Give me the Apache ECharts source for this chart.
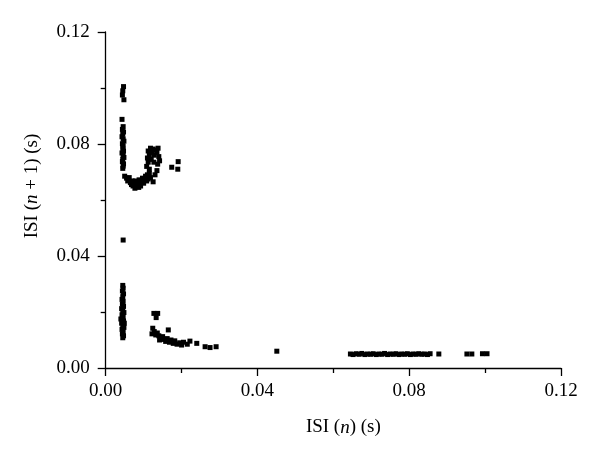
<!DOCTYPE html>
<html>
<head>
<meta charset="utf-8">
<script src="https://cdn.jsdelivr.net/npm/echarts@6/dist/echarts.min.js"></script>
<style>html,body{margin:0;padding:0;background:#fff;}#c{width:600px;height:460px;}</style>
</head>
<body>
<div id="c"></div>
<script>
const xTicks = [0, 0.04, 0.08, 0.12];
const yTicks = [0, 0.04, 0.08, 0.12];

const upperColumn = [
  [0.0047,0.1005],[0.0045,0.0990],[0.0044,0.0975],[0.0048,0.0958],[0.0043,0.0888],
  [0.0046,0.0862],[0.0044,0.0852],[0.0047,0.0843],[0.0045,0.0835],[0.0043,0.0826],
  [0.0046,0.0818],[0.0048,0.0810],[0.0044,0.0801],[0.0046,0.0792],[0.0045,0.0784],
  [0.0047,0.0775],[0.0043,0.0768],[0.0046,0.0760],[0.0048,0.0752],[0.0045,0.0745],
  [0.0044,0.0737],[0.0047,0.0729],[0.0046,0.0721],[0.0045,0.0713]
];
const upperBlob = [
  [0.0050,0.0685],[0.0055,0.0678],[0.0060,0.0672],[0.0058,0.0668],[0.0065,0.0662],
  [0.0068,0.0655],[0.0072,0.0650],[0.0075,0.0660],[0.0078,0.0668],[0.0080,0.0655],
  [0.0083,0.0648],[0.0085,0.0662],[0.0088,0.0672],[0.0090,0.0658],[0.0092,0.0650],
  [0.0095,0.0665],[0.0097,0.0678],[0.0100,0.0660],[0.0102,0.0670],[0.0105,0.0685],
  [0.0108,0.0668],[0.0110,0.0690],[0.0112,0.0675],[0.0115,0.0695],[0.0118,0.0680],
  [0.0125,0.0665],[0.0130,0.0690],[0.0135,0.0705],[0.0070,0.0668],[0.0062,0.0680],
  [0.0087,0.0645],[0.0077,0.0642],
  [0.0108,0.0720],[0.0112,0.0735],[0.0110,0.0750],[0.0115,0.0762],[0.0112,0.0775],
  [0.0118,0.0785],[0.0122,0.0770],[0.0125,0.0782],[0.0128,0.0760],[0.0132,0.0778],
  [0.0135,0.0770],[0.0138,0.0785],[0.0140,0.0755],[0.0142,0.0740],[0.0137,0.0728],
  [0.0120,0.0745],[0.0127,0.0735],[0.0115,0.0710],
  [0.0174,0.0717],[0.0191,0.0737],[0.0190,0.0710]
];
const single = [[0.0046,0.0457],[0.0451,0.0060]];
const lowerColumn = [
  [0.0045,0.0295],[0.0046,0.0285],[0.0044,0.0275],[0.0047,0.0265],[0.0045,0.0255],
  [0.0043,0.0245],[0.0046,0.0238],[0.0044,0.0228],[0.0047,0.0220],[0.0042,0.0212],
  [0.0045,0.0205],[0.0048,0.0198],[0.0043,0.0190],[0.0046,0.0183],[0.0044,0.0175],
  [0.0047,0.0168],[0.0042,0.0160],[0.0045,0.0152],[0.0048,0.0145],[0.0043,0.0138],
  [0.0046,0.0130],[0.0044,0.0122],[0.0047,0.0115],[0.0045,0.0108],[0.0040,0.0175],
  [0.0049,0.0160]
];
const lowerCurve = [
  [0.0127,0.0195],[0.0137,0.0195],[0.0133,0.0180],
  [0.0124,0.0142],[0.0128,0.0130],[0.0122,0.0122],[0.0132,0.0118],[0.0136,0.0125],
  [0.0140,0.0115],[0.0145,0.0108],[0.0142,0.0100],[0.0150,0.0112],[0.0155,0.0102],
  [0.0158,0.0095],[0.0165,0.0136],[0.0162,0.0105],[0.0168,0.0092],[0.0172,0.0100],
  [0.0178,0.0088],[0.0182,0.0097],[0.0188,0.0085],[0.0195,0.0090],[0.0200,0.0082],
  [0.0205,0.0092],[0.0215,0.0085],[0.0222,0.0096],[0.0240,0.0088],[0.0262,0.0076],
  [0.0275,0.0073],[0.0291,0.0076]
];
const band = [
  [0.0645,0.0050],[0.0652,0.0048],[0.0660,0.0051],[0.0668,0.0049],[0.0675,0.0052],
  [0.0683,0.0048],[0.0690,0.0050],[0.0698,0.0049],[0.0705,0.0051],[0.0713,0.0048],
  [0.0720,0.0050],[0.0728,0.0049],[0.0735,0.0052],[0.0743,0.0048],[0.0750,0.0050],
  [0.0758,0.0049],[0.0765,0.0051],[0.0773,0.0048],[0.0780,0.0050],[0.0788,0.0049],
  [0.0795,0.0051],[0.0803,0.0048],[0.0810,0.0050],[0.0818,0.0049],[0.0825,0.0051],
  [0.0833,0.0049],[0.0840,0.0050],[0.0848,0.0048],[0.0855,0.0051],
  [0.0878,0.0050],[0.0952,0.0050],[0.0965,0.0050],[0.0993,0.0051],[0.1005,0.0051]
];

const allPoints = [].concat(upperColumn, upperBlob, single, lowerColumn, lowerCurve, band);

const font = '"Liberation Serif", "DejaVu Serif", serif';
const chart = echarts.init(document.getElementById('c'), null, {renderer: 'canvas'});
const axisCommon = {
  min: 0, max: 0.12, interval: 0.04,
  splitLine: {show: false},
  axisLine: {show: true, lineStyle: {color: '#000', width: 1.3}},
  axisTick: {show: true, inside: false, length: 8, lineStyle: {color: '#000', width: 1.3}},
  minorTick: {show: true, splitNumber: 2, length: 5, lineStyle: {color: '#000', width: 1.3}},
  axisLabel: {color: '#000', fontFamily: font, fontSize: 19, formatter: v => v.toFixed(2)},
  nameLocation: 'middle'
};
const richName = {i: {fontStyle: 'italic', fontFamily: font, fontSize: 19, color: '#000'}};
chart.setOption({
  backgroundColor: '#fff',
  animation: false,
  grid: {left: 105.7, right: 39, top: 32, bottom: 92},
  xAxis: Object.assign({}, axisCommon, {
    type: 'value', name: 'ISI ({i|n}) (s)', nameGap: 50,
    nameTextStyle: {color: '#000', fontFamily: font, fontSize: 19, padding: [0, 0, 0, 20], rich: richName},
    axisLabel: Object.assign({}, axisCommon.axisLabel, {margin: 14})
  }),
  yAxis: Object.assign({}, axisCommon, {
    type: 'value', name: 'ISI ({i|n} + 1) (s)', nameGap: 64,
    nameTextStyle: {color: '#000', fontFamily: font, fontSize: 19, padding: [0, 0, 0, 28], rich: richName},
    axisLabel: Object.assign({}, axisCommon.axisLabel, {margin: 16})
  }),
  series: [{
    type: 'scatter',
    data: allPoints,
    symbol: 'rect',
    symbolSize: 5,
    itemStyle: {color: '#000', opacity: 1}
  }]
});
</script>
</body>
</html>
